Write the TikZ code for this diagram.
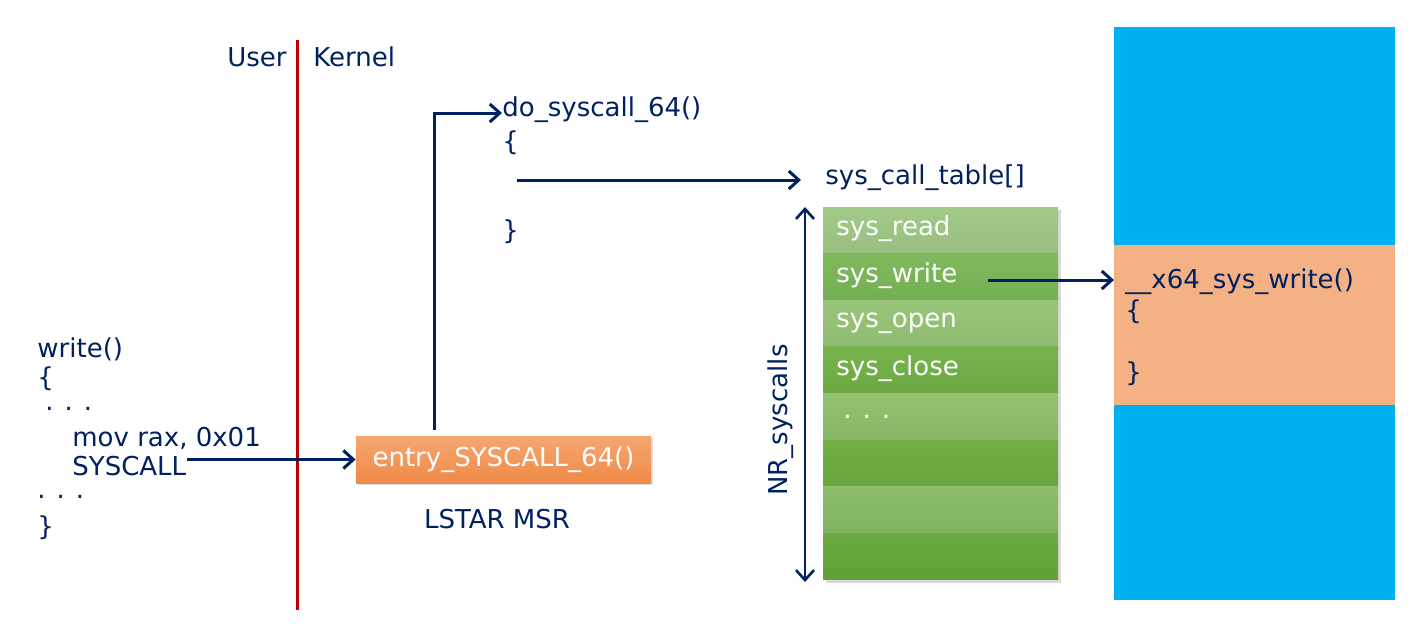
\documentclass[tikz,border=0pt]{standalone}
\usepackage{fontspec}
\setmainfont{DejaVu Sans}
\usepackage{tikz}
\usetikzlibrary{arrows.meta,shadows}
\definecolor{navy}{HTML}{002060}
\definecolor{userred}{HTML}{C00000}
\definecolor{memblue}{HTML}{00B0F0}
\definecolor{fnband}{HTML}{F4B183}
\definecolor{entrytop}{HTML}{F6A672}
\definecolor{entrybot}{HTML}{EE8A46}
% table rows, light / dark in turn
\definecolor{rowA}{HTML}{9EC784}
\definecolor{rowB}{HTML}{7AB657}
\definecolor{rowC}{HTML}{94C374}
\definecolor{rowD}{HTML}{71B045}
\definecolor{rowE}{HTML}{8DBF6A}
\definecolor{rowF}{HTML}{6BAB3F}
\definecolor{rowG}{HTML}{87BA63}
\definecolor{rowH}{HTML}{65A639}

\begin{document}
\begin{tikzpicture}[x=0.5pt,y=-0.5pt,
  font=\fontsize{13}{15}\selectfont,
  every node/.style={inner sep=0pt,text=navy},
  code/.style={anchor=west},
  flow/.style={navy,line width=1.5pt,-{Straight Barb[length=5pt,width=9pt]}},
  slot/.style={anchor=west,text=white}]
  \useasboundingbox (0,0) rectangle (1425,629);
  % user / kernel border
  \draw[userred,line width=1.5pt] (297,40) -- (297,610);
  \node[anchor=east] (user) at (287,57) {User};
  \node[code] (kernel) at (313,57) {Kernel};
  % user side code
  \node[code] (wr) at (37,349) {write()};
  \node[code] (wro) at (37,379) {\{};
  \node[code] (dotsA) at (45,409) {. . .};
  \node[code] (mov) at (72,438) {mov rax, 0x01};
  \node[code] (sc) at (72,466) {SYSCALL};
  \node[code] (dotsB) at (37,497) {. . .};
  \node[code] (wrc) at (37,528) {\}};
  % entry point
  \node[fill=entrytop,top color=entrytop,bottom color=entrybot,text=white,
    minimum width=147.5pt,minimum height=23.5pt,
    drop shadow={opacity=0.25,shadow xshift=1pt,shadow yshift=-1pt}] (entry) at (503.5,459.5) {entry\_SYSCALL\_64()};
  \node (lstar) at (497,519) {LSTAR MSR};
  \draw[flow] (entry.west -| sc.east) -- (entry.west);
  % do_syscall_64
  \node[code] (dosys) at (502,110) {do\_syscall\_64()};
  \node[code] (dso) at (502,143) {\{};
  \node[code] (dsc) at (502,232) {\}};
  \coordinate (bend) at (434,113);
  \draw[flow,shorten <=3pt] (entry.north -| bend) -- (bend) -- (bend -| dosys.west);
  \coordinate (call) at (517,180);
  \node[code] (tbl) at (825,178) {sys\_call\_table[]};
  \draw[flow,shorten >=12pt] (call) -- (call -| tbl.west);
  % syscall table
  \fill[gray!30] (826,210) rectangle (1061,583);
  \foreach \c [count=\i from 0] in {rowA,rowB,rowC,rowD,rowE,rowF,rowG,rowH}
    \shade[top color=\c!96!white,bottom color=\c!96!black] (823,207+46.6*\i) rectangle (1058,207+46.6*\i+46.6);
  \node[slot] (sread) at (836,229) {sys\_read};
  \node[slot] (swrite) at (836,276) {sys\_write};
  \node[slot] (sopen) at (836,323) {sys\_open};
  \node[slot] (sclose) at (836,369) {sys\_close};
  \node[slot] (sdots) at (843,417) {. . .};
  \coordinate (nrTop) at (805,207);
  \coordinate (nrBot) at (805,582);
  \draw[navy,line width=1.3pt,{Straight Barb[length=5pt,width=9pt]}-{Straight Barb[length=5pt,width=9pt]}] (nrTop) -- (nrBot);
  \node[rotate=90] (nr) at (781,420) {NR\_syscalls};
  % kernel memory
  \fill[memblue] (1114,27) rectangle (1395,600);
  \node[fill=fnband,anchor=north west,minimum width=140.5pt,minimum height=80pt] (band) at (1114,245) {};
  \node[code] (x64) at (1125,282) {\_\_x64\_sys\_write()};
  \node[code] (xo) at (1125,312) {\{};
  \node[code] (xc) at (1125,374) {\}};
  \coordinate (wrOut) at (988,280);
  \draw[flow] (wrOut) -- (wrOut -| band.west);
\end{tikzpicture}
\end{document}
